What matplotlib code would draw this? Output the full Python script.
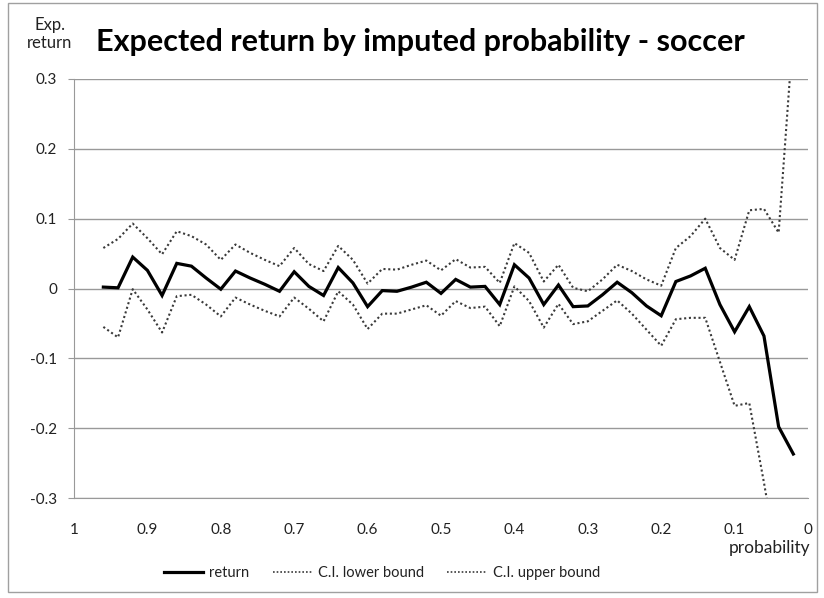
import matplotlib
matplotlib.use("Agg")
import matplotlib.pyplot as plt
from matplotlib.patches import Rectangle
from matplotlib.lines import Line2D

plt.rcParams['font.family'] = ['Lato', 'DejaVu Sans']

probability = [0.96, 0.94, 0.92, 0.90, 0.88, 0.86, 0.84, 0.82, 0.80, 0.78,
               0.76, 0.74, 0.72, 0.70, 0.68, 0.66, 0.64, 0.62, 0.60, 0.58,
               0.56, 0.54, 0.52, 0.50, 0.48, 0.46, 0.44, 0.42, 0.40, 0.38,
               0.36, 0.34, 0.32, 0.30, 0.28, 0.26, 0.24, 0.22, 0.20, 0.18,
               0.16, 0.14, 0.12, 0.10, 0.08, 0.06, 0.04, 0.02]

ret = [0.002, 0.001, 0.045, 0.026, -0.010, 0.036, 0.032, 0.015, -0.001, 0.025,
       0.015, 0.006, -0.004, 0.024, 0.003, -0.010, 0.030, 0.008, -0.026, -0.003,
       -0.004, 0.002, 0.009, -0.007, 0.013, 0.002, 0.003, -0.023, 0.034, 0.015,
       -0.023, 0.005, -0.026, -0.025, -0.009, 0.009, -0.006, -0.025, -0.039, 0.010,
       0.018, 0.029, -0.023, -0.062, -0.026, -0.068, -0.198, -0.237]

ci_lower = [-0.055, -0.070, -0.001, -0.030, -0.063, -0.011, -0.009, -0.023, -0.040, -0.013,
            -0.023, -0.032, -0.040, -0.013, -0.029, -0.047, -0.004, -0.023, -0.058, -0.036,
            -0.036, -0.030, -0.024, -0.039, -0.018, -0.028, -0.026, -0.054, 0.003, -0.018,
            -0.056, -0.022, -0.051, -0.047, -0.032, -0.017, -0.036, -0.059, -0.082, -0.044,
            -0.042, -0.042, -0.105, -0.168, -0.164, -0.278, -0.400, -0.450]

ci_upper = [0.058, 0.071, 0.093, 0.072, 0.049, 0.082, 0.075, 0.063, 0.041, 0.063,
            0.051, 0.041, 0.032, 0.058, 0.035, 0.025, 0.061, 0.041, 0.007, 0.028,
            0.027, 0.034, 0.040, 0.026, 0.042, 0.030, 0.031, 0.008, 0.065, 0.051,
            0.010, 0.034, 0.001, -0.004, 0.013, 0.034, 0.025, 0.013, 0.004, 0.058,
            0.075, 0.100, 0.058, 0.041, 0.112, 0.114, 0.080, 0.370]

x_ticks = [1, 0.9, 0.8, 0.7, 0.6, 0.5, 0.4, 0.3, 0.2, 0.1, 0]
x_tick_labels = ['1', '0.9', '0.8', '0.7', '0.6', '0.5', '0.4', '0.3', '0.2', '0.1', '0']
y_ticks = [-0.3, -0.2, -0.1, 0, 0.1, 0.2, 0.3]
y_tick_labels = ['-0.3', '-0.2', '-0.1', '0', '0.1', '0.2', '0.3']

W, H = 824, 598
fig = plt.figure(figsize=(W / 100, H / 100), dpi=100)
ax = fig.add_axes([74 / W, 1 - 498 / H, (808 - 74) / W, (498 - 79) / H])

grid_c = '#999999'
text_c = '#222222'
dot_c = '#3a3a3a'

ax.plot(probability, ret, color='black', lw=2.3, solid_joinstyle='miter', zorder=4)
ax.plot(probability, ci_lower, color=dot_c, lw=1.5, linestyle=(0, (1, 1.3)), zorder=3)
ax.plot(probability, ci_upper, color=dot_c, lw=1.5, linestyle=(0, (1, 1.3)), zorder=3)

ax.set_xlim(1, 0)
ax.set_ylim(-0.3, 0.3)
ax.set_xticks(x_ticks)
ax.set_xticklabels(x_tick_labels)
ax.set_yticks(y_ticks)
ax.set_yticklabels(y_tick_labels)
ax.yaxis.grid(True, color=grid_c, lw=1.0)
ax.set_axisbelow(True)
for s in ['top', 'right']:
    ax.spines[s].set_visible(False)
ax.spines['left'].set_color(grid_c)
ax.spines['bottom'].set_color(grid_c)
ax.tick_params(axis='y', length=4, color=grid_c, labelsize=11, labelcolor=text_c, pad=8)
ax.tick_params(axis='x', length=0, labelsize=11, labelcolor=text_c, pad=18)

fig.text(96 / W, 1 - 42 / H, 'Expected return by imputed probability - soccer',
         fontsize=22, fontweight='bold', color='black', va='center', ha='left')
fig.text(50 / W, 1 - 25 / H, 'Exp.', fontsize=12, color=text_c,
         va='center', ha='center')
fig.text(50 / W, 1 - 43 / H, 'return', fontsize=12, color=text_c,
         va='center', ha='center')
fig.text(810 / W, 1 - 548 / H, 'probability', fontsize=12.5, color=text_c,
         va='center', ha='right')

handles = [Line2D([], [], color='black', lw=2.3),
           Line2D([], [], color=dot_c, lw=1.2, linestyle=(0, (1, 1.2))),
           Line2D([], [], color=dot_c, lw=1.2, linestyle=(0, (1, 1.2)))]
labels = ['return', 'C.I. lower bound', 'C.I. upper bound']
fig.legend(handles, labels, loc='center', bbox_to_anchor=(382 / W, 1 - 573 / H),
           ncol=3, frameon=False, fontsize=10.5, handlelength=2.7, handletextpad=0.4,
           columnspacing=1.6, labelcolor=text_c)

fig.patches.append(Rectangle((8 / W, 1 - 592 / H), (817 - 8) / W, (592 - 3) / H,
                             transform=fig.transFigure, fill=False,
                             edgecolor='#a0a0a0', lw=1.0))

fig.savefig('out.png', dpi=100)
